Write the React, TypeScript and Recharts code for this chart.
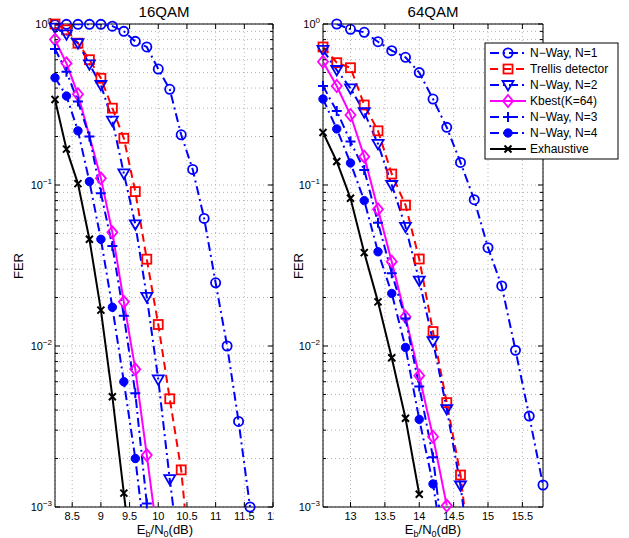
import React from 'react';
import { LineChart, Line, XAxis, YAxis, CartesianGrid, ReferenceArea } from 'recharts';

const FONT = '"Liberation Sans", Arial, Helvetica, sans-serif';
const BLUE = '#0000ff';
const RED = '#ff0000';
const MAGENTA = '#ff00ff';
const BLACK = '#000000';

// ---- data (Eb/N0 grid in dB, FER per detector) ----
const snr16 = [8.2, 8.4, 8.6, 8.8, 9.0, 9.2, 9.4, 9.6, 9.8, 10.0, 10.2, 10.4, 10.6, 10.8, 11.0, 11.2, 11.4, 11.6];
const fer16_n1 = [0.99, 0.995, 0.995, 0.995, 0.995, 0.97, 0.9, 0.78, 0.72, 0.525, 0.393, 0.205, 0.125, 0.062, 0.0247, 0.01, 0.0034, 0.001];
const fer16_trellis = [1.0, 0.92, 0.76, 0.6, 0.46, 0.3, 0.195, 0.091, 0.0346, 0.0136, 0.0047, 0.0017, 0.0003];
const fer16_n2 = [0.95, 0.863, 0.76, 0.562, 0.418, 0.251, 0.118, 0.057, 0.0202, 0.0062, 0.00149, 0.0004];
const fer16_kbest = [0.8, 0.57, 0.366, null, 0.11, 0.0508, 0.0188, 0.00716, 0.0021, 0.0006];
const fer16_n3 = [0.7, 0.506, 0.33, 0.2, 0.089, 0.0418, 0.0154, 0.00508, 0.00105];
const fer16_n4 = [0.464, 0.357, 0.217, 0.105, 0.046, 0.0174, 0.006, 0.002, 0.0005];
const fer16_exh = [0.34, 0.167, 0.102, 0.046, 0.0167, 0.00484, 0.00122, 0.0003];

const snr64 = [12.6, 12.8, 13.0, 13.2, 13.4, 13.6, 13.8, 14.0, 14.2, 14.4, 14.6, 14.8, 15.0, 15.2, 15.4, 15.6, 15.8];
const fer64_n1 = [null, 1.0, 0.927, 0.888, 0.776, 0.683, 0.621, 0.499, 0.342, 0.228, 0.138, 0.081, 0.0408, 0.0236, 0.0094, 0.00367, 0.00137];
const fer64_trellis = [0.72, 0.575, 0.535, 0.314, 0.217, 0.117, 0.075, 0.0347, 0.0123, 0.00445, 0.00158, 0.0003];
const fer64_n2 = [0.69, 0.518, 0.398, 0.283, 0.18, 0.1, 0.055, 0.0255, 0.0107, 0.00406, 0.00136, 0.0003];
const fer64_kbest = [0.583, 0.412, 0.272, 0.15, 0.0706, 0.0334, 0.0152, 0.00654, 0.00273, 0.00102];
const fer64_n3 = [0.412, 0.288, 0.186, 0.124, 0.0583, 0.0283, 0.0148, 0.0056, 0.00204, 0.0004];
const fer64_n4 = [0.342, 0.223, 0.137, 0.08, 0.0385, 0.0212, 0.0098, 0.0035, 0.00139, 0.0004];
const fer64_exh = [0.212, 0.14, 0.0827, 0.038, 0.0188, 0.00846, 0.00356, 0.0012];

const xTicks16 = [8.5, 9, 9.5, 10, 10.5, 11, 11.5, 12];
const xTicks64 = [13, 13.5, 14, 14.5, 15, 15.5];
const yDecades = [0.001, 0.01, 0.1, 1];
const yMinor = [2, 3, 4, 5, 6, 7, 8, 9];
const yTicks = [
  ...yDecades.slice(0, 3).flatMap((d) => [d, ...yMinor.map((m) => +(d * m).toPrecision(3))]),
  1,
];

type MarkerKind = 'circle' | 'square' | 'triangle' | 'diamond' | 'plus' | 'dot' | 'x';

interface SeriesStyle {
  id: string;
  name: string;
  color: string;
  dash?: string;
  marker: MarkerKind;
}

const DASHDOT = '9 4 2 4';

const seriesStyles: SeriesStyle[] = [
  { id: 'n1', name: 'N\u2212Way, N=1', color: BLUE, dash: DASHDOT, marker: 'circle' },
  { id: 'trellis', name: 'Trellis detector', color: RED, dash: '8 5', marker: 'square' },
  { id: 'n2', name: 'N\u2212Way, N=2', color: BLUE, dash: DASHDOT, marker: 'triangle' },
  { id: 'kbest', name: 'Kbest(K=64)', color: MAGENTA, marker: 'diamond' },
  { id: 'n3', name: 'N\u2212Way, N=3', color: BLUE, dash: DASHDOT, marker: 'plus' },
  { id: 'n4', name: 'N\u2212Way, N=4', color: BLUE, dash: DASHDOT, marker: 'dot' },
  { id: 'exh', name: 'Exhaustive', color: BLACK, marker: 'x' },
];

const fers16 = [fer16_n1, fer16_trellis, fer16_n2, fer16_kbest, fer16_n3, fer16_n4, fer16_exh];
const fers64 = [fer64_n1, fer64_trellis, fer64_n2, fer64_kbest, fer64_n3, fer64_n4, fer64_exh];

const toPoints = (snr: number[], fer: (number | null)[]) =>
  fer.map((y, i) => ({ x: snr[i], y })).filter((p) => p.y !== null) as { x: number; y: number }[];

function Marker({ kind, cx, cy, color }: { kind: MarkerKind; cx: number; cy: number; color: string }) {
  switch (kind) {
    case 'circle':
      return <circle cx={cx} cy={cy} r={4.6} fill="none" stroke={color} strokeWidth={1.8} />;
    case 'square':
      return <rect x={cx - 4.5} y={cy - 4.5} width={9} height={9} fill="none" stroke={color} strokeWidth={1.8} />;
    case 'triangle':
      return (
        <polygon
          points={`${cx - 5.5},${cy - 4} ${cx + 5.5},${cy - 4} ${cx},${cy + 5.5}`}
          fill="none"
          stroke={color}
          strokeWidth={1.8}
        />
      );
    case 'diamond':
      return (
        <polygon
          points={`${cx},${cy - 6} ${cx + 5},${cy} ${cx},${cy + 6} ${cx - 5},${cy}`}
          fill="none"
          stroke={color}
          strokeWidth={1.8}
        />
      );
    case 'plus':
      return <path d={`M${cx - 5},${cy}H${cx + 5}M${cx},${cy - 5}V${cy + 5}`} stroke={color} strokeWidth={2} />;
    case 'dot':
      return <circle cx={cx} cy={cy} r={4.2} fill={color} stroke={color} strokeWidth={1} />;
    case 'x':
      return (
        <path
          d={`M${cx - 3.5},${cy - 3.5}L${cx + 3.5},${cy + 3.5}M${cx - 3.5},${cy + 3.5}L${cx + 3.5},${cy - 3.5}`}
          stroke={color}
          strokeWidth={2}
        />
      );
    default:
      return null;
  }
}

const PLOT_TOP = 24;
const PLOT_BOTTOM = 507;
const Y_AXIS_W = 45;
const X_AXIS_H = 30;

interface PanelProps {
  left: number;
  width: number;
  margin: { top: number; right: number; bottom: number; left: number };
  xDomain: [number, number];
  xTicks: number[];
  snr: number[];
  fers: (number | null)[][];
  background?: string;
}

function Panel({ left, width, margin, xDomain, xTicks, snr, fers, background }: PanelProps) {
  const plotLeft = margin.left + Y_AXIS_W;
  const plotRight = width - margin.right;

  const renderYTick = (p: any) => {
    const v = p.payload.value as number;
    const y = p.y as number;
    const major = yDecades.includes(v);
    const len = major ? 5 : 3;
    const exp = Math.round(Math.log10(v));
    return (
      <g key={`yt-${v}`}>
        <line x1={plotLeft} x2={plotLeft + len} y1={y} y2={y} stroke="#000" strokeWidth={1} />
        <line x1={plotRight - len} x2={plotRight} y1={y} y2={y} stroke="#000" strokeWidth={1} />
        {major && (
          <text x={plotLeft - 3} y={y + 4} textAnchor="end" fontSize={11} fontFamily={FONT} fill="#000">
            10
            <tspan dy={-5} fontSize={8}>
              {exp === 0 ? '0' : `\u2212${Math.abs(exp)}`}
            </tspan>
          </text>
        )}
      </g>
    );
  };

  const renderXTick = (p: any) => {
    const v = p.payload.value as number;
    const x = p.x as number;
    return (
      <g key={`xt-${v}`}>
        <line x1={x} x2={x} y1={PLOT_BOTTOM - 5} y2={PLOT_BOTTOM} stroke="#000" strokeWidth={1} />
        <line x1={x} x2={x} y1={PLOT_TOP} y2={PLOT_TOP + 5} stroke="#000" strokeWidth={1} />
        <text x={x} y={PLOT_BOTTOM + 13} textAnchor="middle" fontSize={11} fontFamily={FONT} fill="#000">
          {String(v)}
        </text>
      </g>
    );
  };

  return (
    <div style={{ position: 'absolute', left, top: 0, width, height: 538, background }}>
      <LineChart width={width} height={538} margin={margin}>
        <CartesianGrid xAxisId="a" yAxisId="a" stroke="#b4b4b4" strokeDasharray="1 3" />
        <XAxis
          xAxisId="a"
          type="number"
          dataKey="x"
          domain={xDomain}
          allowDataOverflow
          ticks={xTicks}
          interval={0}
          tick={renderXTick}
          tickLine={false}
          axisLine={false}
          height={X_AXIS_H}
        />
        <YAxis
          yAxisId="a"
          type="number"
          scale="log"
          domain={[0.001, 1]}
          allowDataOverflow
          ticks={yTicks}
          interval={0}
          tick={renderYTick}
          tickLine={false}
          axisLine={false}
          width={Y_AXIS_W}
        />
        <XAxis xAxisId="m" hide type="number" dataKey="x" domain={xDomain} />
        <YAxis yAxisId="m" hide type="number" scale="log" domain={[0.001, 1]} />
        <ReferenceArea
          xAxisId="a"
          yAxisId="a"
          x1={xDomain[0]}
          x2={xDomain[1]}
          y1={0.001}
          y2={1}
          fill="none"
          stroke="#000"
          strokeWidth={1}
        />
        {seriesStyles.flatMap((s, i) => {
          const pts = toPoints(snr, fers[i]);
          const visible = pts.filter((p) => p.y >= 0.001 && p.y <= 1);
          return [
            <Line
              key={`${s.id}-line`}
              xAxisId="a"
              yAxisId="a"
              data={pts}
              dataKey="y"
              stroke={s.color}
              strokeWidth={2}
              strokeDasharray={s.dash}
              dot={false}
              activeDot={false}
              isAnimationActive={false}
            />,
            <Line
              key={`${s.id}-marks`}
              xAxisId="m"
              yAxisId="m"
              data={visible}
              dataKey="y"
              stroke="none"
              dot={(d: any) => (
                <Marker key={`${s.id}-m-${d.index}`} kind={s.marker} cx={d.cx} cy={d.cy} color={s.color} />
              )}
              activeDot={false}
              isAnimationActive={false}
            />,
          ];
        })}
      </LineChart>
    </div>
  );
}

function LegendBox() {
  const x0 = 485;
  const y0 = 43;
  return (
    <g>
      <rect x={x0} y={y0} width={133} height={116} fill="#fff" stroke="#000" strokeWidth={1} />
      {seriesStyles.map((s, i) => {
        const cy = 53 + i * 16;
        return (
          <g key={s.id}>
            <line x1={490} x2={526} y1={cy} y2={cy} stroke={s.color} strokeWidth={2} strokeDasharray={s.dash} />
            <Marker kind={s.marker} cx={508} cy={cy} color={s.color} />
            <text x={530} y={cy + 4} fontSize={12} fontFamily={FONT} fill="#000">
              {s.name}
            </text>
          </g>
        );
      })}
    </g>
  );
}

function XLabel({ cx }: { cx: number }) {
  return (
    <text x={cx} y={534} textAnchor="middle" fontSize={13} fontFamily={FONT} fill="#000">
      E<tspan dy={3} fontSize={9}>b</tspan>
      <tspan dy={-3}>/N</tspan>
      <tspan dy={3} fontSize={9}>0</tspan>
      <tspan dy={-3}>(dB)</tspan>
    </text>
  );
}

export default function App() {
  return (
    <div style={{ position: 'absolute', left: 0, top: 0, width: 629, height: 538, background: '#fff', fontFamily: FONT }}>
      <Panel
        left={0}
        width={290}
        margin={{ top: PLOT_TOP, right: 17, bottom: 538 - PLOT_BOTTOM - X_AXIS_H, left: 10 }}
        xDomain={[8.2, 12]}
        xTicks={xTicks16}
        snr={snr16}
        fers={fers16}
      />
      <Panel
        left={274}
        width={284}
        margin={{ top: PLOT_TOP, right: 15, bottom: 538 - PLOT_BOTTOM - X_AXIS_H, left: 4 }}
        xDomain={[12.6, 15.8]}
        xTicks={xTicks64}
        snr={snr64}
        fers={fers64}
        background="#fff"
      />
      <svg width={629} height={538} style={{ position: 'absolute', left: 0, top: 0, pointerEvents: 'none' }}>
        <text x={164} y={17} textAnchor="middle" fontSize={15} fontFamily={FONT} fill="#000">
          16QAM
        </text>
        <text x={433} y={17} textAnchor="middle" fontSize={15} fontFamily={FONT} fill="#000">
          64QAM
        </text>
        <text transform="translate(23,266) rotate(-90)" textAnchor="middle" fontSize={13} fontFamily={FONT} fill="#000">
          FER
        </text>
        <text transform="translate(303,266) rotate(-90)" textAnchor="middle" fontSize={13} fontFamily={FONT} fill="#000">
          FER
        </text>
        <XLabel cx={165} />
        <XLabel cx={433} />
        <LegendBox />
      </svg>
    </div>
  );
}
